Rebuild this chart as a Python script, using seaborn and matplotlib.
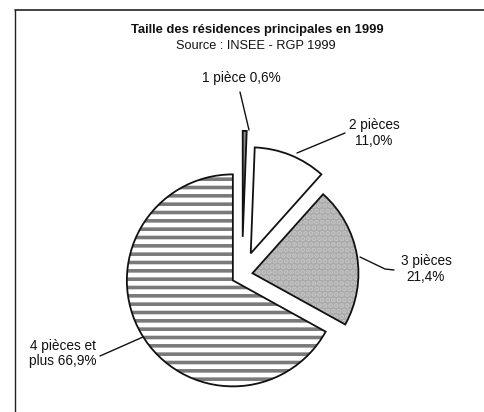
import matplotlib
matplotlib.use("Agg")
import matplotlib.pyplot as plt
import seaborn as sns

categories = ["1 pièce", "2 pièces", "3 pièces", "4 pièces et plus"]
values = [0.6, 11.0, 21.4, 66.9]
value_labels = ["0,6%", "11,0%", "21,4%", "66,9%"]
title = "Taille des résidences principales en 1999"
subtitle = "Source : INSEE - RGP 1999"

sns.set_theme(style="white")
plt.rcParams['font.family'] = ['Liberation Sans', 'DejaVu Sans']
plt.rcParams['hatch.linewidth'] = 2.6

W, H = 484, 412
fig = plt.figure(figsize=(W / 100, H / 100), dpi=100)
fig.patch.set_facecolor('white')

cx, cy, R = 242, 275, 106
ax = fig.add_axes([0, 0, 1, 1])
explode = [0.36, 0.22, 0.10, 0.10]
face = ['#8a8a8a', 'white', '#a9a9a9', 'white']
hatches = ['', '', '...', '--']
hatch_cols = ['#8a8a8a', 'white', '#c4c4c4', '#7a7a7a']
wedges, _ = ax.pie(values, radius=1, center=(0, 0), startangle=90,
                   counterclock=False, explode=explode, colors=face,
                   hatch=hatches, wedgeprops=dict(linewidth=0))
for w, hc in zip(wedges, hatch_cols):
    w.set_edgecolor(hc)
ax.pie(values, radius=1, center=(0, 0), startangle=90, counterclock=False,
       explode=explode,
       wedgeprops=dict(fill=False, edgecolor='#111111', linewidth=1.3))
ax.set_xlim(-cx / R, (W - cx) / R)
ax.set_ylim(-(H - cy) / R, cy / R)
ax.set_aspect('equal')
ax.axis('off')

ov = fig.add_axes([0, 0, 1, 1], zorder=5)
ov.set_xlim(0, W)
ov.set_ylim(H, 0)
ov.axis('off')
ov.patch.set_alpha(0)

# frame
ov.plot([15, 484], [10, 10], color='#222222', lw=1.2)
ov.plot([15, 15], [10, 412], color='#222222', lw=1.0)

ov.text(257, 30, title, ha='center', va='center', fontsize=9.4, weight='bold', color='#111111')
ov.text(256, 46, subtitle, ha='center', va='center', fontsize=9.2, color='#111111')

fs = 9.8
ov.text(241, 78, f"{categories[0]} {value_labels[0]}", ha='center', va='center', fontsize=fs, color='#111111')
ov.plot([240, 249], [92, 130], color='#111111', lw=1)

ov.text(374, 125, categories[1], ha='center', va='center', fontsize=fs, color='#111111')
ov.text(374, 141, value_labels[1], ha='center', va='center', fontsize=fs, color='#111111')
ov.plot([345, 297], [133, 153], color='#111111', lw=1)

ov.text(426, 261, categories[2], ha='center', va='center', fontsize=fs, color='#111111')
ov.text(426, 277, value_labels[2], ha='center', va='center', fontsize=fs, color='#111111')
ov.plot([360, 385, 394], [257, 269, 270], color='#111111', lw=1)

ov.text(63, 346, "4 pièces et", ha='center', va='center', fontsize=fs, color='#111111')
ov.text(63, 361, "plus " + value_labels[3], ha='center', va='center', fontsize=fs, color='#111111')
ov.plot([100, 143], [356, 337], color='#111111', lw=1)

fig.savefig('out.png', dpi=100)
